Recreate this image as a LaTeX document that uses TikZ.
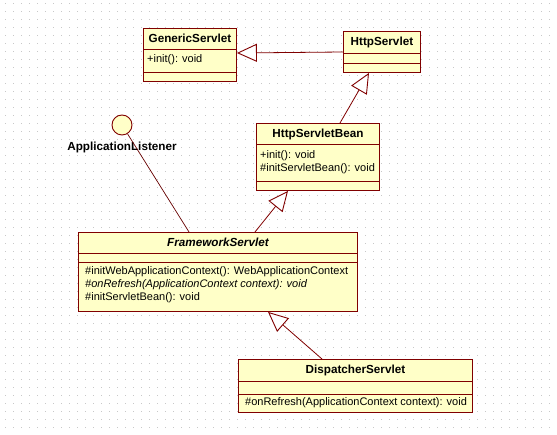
\documentclass[tikz,border=0pt]{standalone}
\usepackage{fontspec}
\setmainfont{Liberation Sans}
\usetikzlibrary{arrows.meta}

\definecolor{umlline}{HTML}{800000}
\definecolor{umlfill}{HTML}{FFFFC8}
\definecolor{griddot}{HTML}{C8C8C8}

\tikzset{
  classbox/.style={draw=umlline, fill=umlfill, line width=0.9pt, inner sep=0pt, anchor=north west},
  divider/.style={draw=umlline, line width=0.9pt},
  title/.style={font=\fontsize{11.7}{13}\selectfont\bfseries, inner sep=0pt},
  member/.style={font=\fontsize{11}{13}\selectfont, inner sep=0pt, anchor=west},
  generalize/.style={draw=umlline, line width=0.8pt,
    -{Triangle[length=20pt, width=18pt, fill=white, line width=0.9pt]}},
  assoc/.style={draw=umlline!80!black, line width=0.7pt}
}

\begin{document}
\begin{tikzpicture}[x=1pt, y=-1pt]
  \useasboundingbox (0,0) rectangle (557,435);
  % dotted grid of the editor
  \foreach \i in {0,...,69} {
    \foreach \j in {0,...,54} {
      \fill[griddot] (\i*8+5, \j*8+3) rectangle ++(1,1);
    }
  }

  % GenericServlet
  \node[classbox, minimum width=93pt, minimum height=53pt] (generic) at (143,28) {};
  \node[title] (generic-t) at ([yshift=-10.5pt]generic.north) {GenericServlet};
  \draw[divider] ([yshift=-21pt]generic.north west) -- ([yshift=-21pt]generic.north east);
  \draw[divider] ([yshift=-44pt]generic.north west) -- ([yshift=-44pt]generic.north east);
  \node[member] (generic-m1) at ([xshift=4pt, yshift=-32pt]generic.north west) {+init(): void};

  % HttpServlet
  \node[classbox, minimum width=77pt, minimum height=41pt] (http) at (343,31) {};
  \node[title] (http-t) at ([yshift=-11pt]http.north) {HttpServlet};
  \draw[divider] ([yshift=-22pt]http.north west) -- ([yshift=-22pt]http.north east);
  \draw[divider] ([yshift=-32pt]http.north west) -- ([yshift=-32pt]http.north east);

  % HttpServletBean
  \node[classbox, minimum width=123pt, minimum height=67pt] (bean) at (256,123) {};
  \node[title] (bean-t) at ([yshift=-11pt]bean.north) {HttpServletBean};
  \draw[divider] ([yshift=-21pt]bean.north west) -- ([yshift=-21pt]bean.north east);
  \draw[divider] ([yshift=-58pt]bean.north west) -- ([yshift=-58pt]bean.north east);
  \node[member] (bean-m1) at ([xshift=4pt, yshift=-33pt]bean.north west) {+init(): void};
  \node[member] (bean-m2) at ([xshift=4pt, yshift=-45.5pt]bean.north west) {\#initServletBean(): void};

  % FrameworkServlet (abstract)
  \node[classbox, minimum width=279pt, minimum height=79pt] (framework) at (78,232) {};
  \node[title, font=\fontsize{11.7}{13}\selectfont\bfseries\itshape] (framework-t)
    at ([yshift=-10.5pt]framework.north) {FrameworkServlet};
  \draw[divider] ([yshift=-21pt]framework.north west) -- ([yshift=-21pt]framework.north east);
  \draw[divider] ([yshift=-30pt]framework.north west) -- ([yshift=-30pt]framework.north east);
  \node[member] (framework-m1) at ([xshift=7pt, yshift=-40pt]framework.north west)
    {\#initWebApplicationContext(): WebApplicationContext};
  \node[member, font=\fontsize{11}{13}\selectfont\itshape] (framework-m2)
    at ([xshift=7pt, yshift=-53pt]framework.north west)
    {\#onRefresh(ApplicationContext context): void};
  \node[member] (framework-m3) at ([xshift=7pt, yshift=-66pt]framework.north west)
    {\#initServletBean(): void};

  % DispatcherServlet
  \node[classbox, minimum width=234pt, minimum height=53pt] (dispatcher) at (238,359) {};
  \node[title] (dispatcher-t) at ([yshift=-11pt]dispatcher.north) {DispatcherServlet};
  \draw[divider] ([yshift=-22pt]dispatcher.north west) -- ([yshift=-22pt]dispatcher.north east);
  \draw[divider] ([yshift=-35pt]dispatcher.north west) -- ([yshift=-35pt]dispatcher.north east);
  \node[member] (dispatcher-m1) at ([xshift=7pt, yshift=-44pt]dispatcher.north west)
    {\#onRefresh(ApplicationContext context): void};

  % ApplicationListener interface (lollipop)
  \node[circle, draw=umlline, fill=umlfill, line width=0.9pt, minimum size=20pt, inner sep=0pt]
    (listener) at (122,125) {};
  \node[title] (listener-t) at (122,147) {ApplicationListener};

  % generalizations and realization
  \draw[generalize] ([yshift=-21pt]http.north west) -- ([yshift=-25pt]generic.north east);
  \draw[generalize] ([xshift=84pt]bean.north west) -- ([xshift=26pt]http.south west);
  \draw[generalize] ([xshift=177pt]framework.north west) -- ([xshift=32pt]bean.south west);
  \draw[generalize] ([xshift=84pt]dispatcher.north west) -- ([xshift=190pt]framework.south west);
  \draw[assoc] (listener) -- ([xshift=111pt]framework.north west);
\end{tikzpicture}
\end{document}
